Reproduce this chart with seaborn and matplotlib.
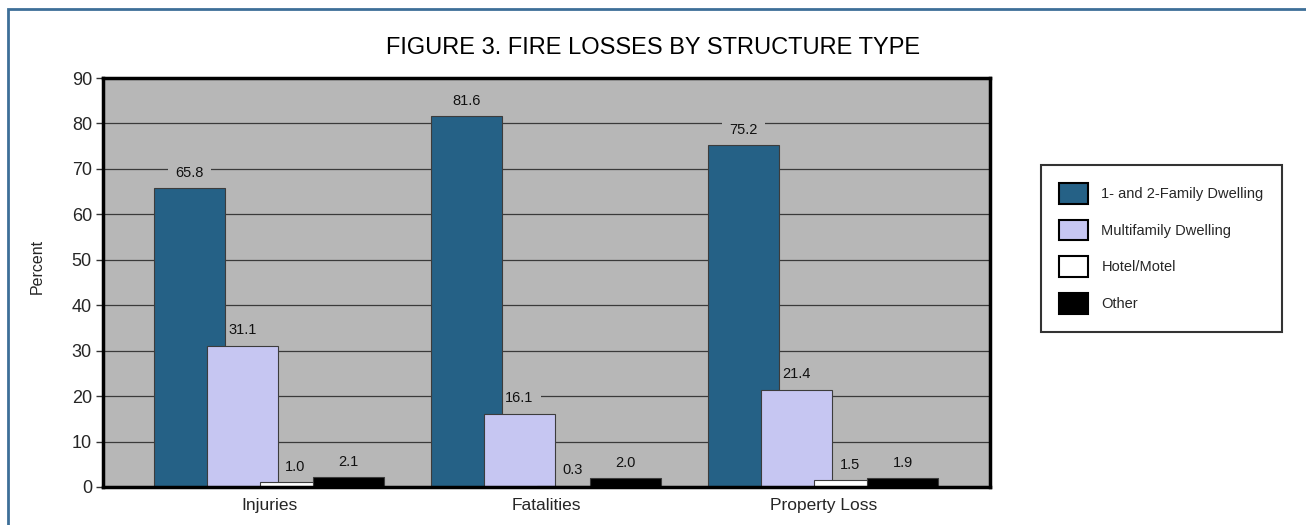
import matplotlib
matplotlib.use("Agg")
import matplotlib.pyplot as plt
from matplotlib.patches import Patch, Rectangle
import seaborn as sns
import pandas as pd

# Loss categories and structure types
categories = ["Injuries", "Fatalities", "Property Loss"]
structure_types = ["1- and 2-Family Dwelling", "Multifamily Dwelling", "Hotel/Motel", "Other"]

# Percent of each loss by structure type
family_12 = [65.8, 81.6, 75.2]
multifamily = [31.1, 16.1, 21.4]
hotel_motel = [1.0, 0.3, 1.5]
other = [2.1, 2.0, 1.9]

colors = ["#256186", "#c6c6f2", "#ffffff", "#000000"]
y_ticks = [0, 10, 20, 30, 40, 50, 60, 70, 80, 90]

series = [family_12, multifamily, hotel_motel, other]
df = pd.DataFrame({
    "Loss": [c for s in series for c in categories],
    "Type": [t for t, s in zip(structure_types, series) for _ in s],
    "Percent": [v for s in series for v in s],
})

sns.set_style("white")
plt.rcParams["font.family"] = ["Liberation Sans", "DejaVu Sans"]

fig = plt.figure(figsize=(13.06, 5.25), dpi=100)
ax = fig.add_axes([0.0789, 0.0724, 0.679, 0.779])
bg = "#b7b7b7"
ax.set_facecolor(bg)

sns.barplot(data=df, x="Loss", y="Percent", hue="Type", order=categories,
            hue_order=structure_types, palette=colors, saturation=1, width=0.77,
            edgecolor="#3c3c3c", linewidth=0.8, legend=False, ax=ax, zorder=2)

# Overlapping bars: step between bars narrower than the bar width
step, bar_w = 0.192, 0.256
for i, cont in enumerate(ax.containers):
    for j, patch in enumerate(cont.patches):
        left = j - 0.4175 + i * step
        patch.set_x(left)
        patch.set_width(bar_w)
    # value labels sit over the gridlines but beneath the bars
    ax.bar_label(cont, fmt="%.1f", padding=6, fontsize=10.5, color="#111111",
                 bbox=dict(boxstyle="square,pad=0.5", facecolor=bg, edgecolor="none"),
                 zorder=1.5)

ax.set_xlim(-0.6, 2.6)
ax.set_ylim(0, 90)
ax.set_yticks(y_ticks)
ax.yaxis.grid(True, color="#3a3a3a", linewidth=0.9)
ax.set_axisbelow(True)
ax.tick_params(axis="y", labelsize=13, length=5, width=1, color="#333333", left=True, pad=3)
ax.tick_params(axis="x", labelsize=12.5, length=0, pad=8)
ax.set_xlabel("")
ax.set_ylabel("Percent", fontsize=11.5)
ax.yaxis.set_label_coords(-0.066, 0.54)
for sp in ax.spines.values():
    sp.set_color("black")
    sp.set_linewidth(2.5)
    sp.set_visible(True)

fig.suptitle("FIGURE 3. FIRE LOSSES BY STRUCTURE TYPE", x=0.5, y=0.93,
             fontsize=17, color="black")

handles = [Patch(facecolor=c, edgecolor="black", linewidth=1.5) for c in colors]
leg = fig.legend(handles, structure_types, loc="upper left",
                 bbox_to_anchor=(0.797, 0.686), borderaxespad=0, fontsize=10.5,
                 frameon=True, fancybox=False, handlelength=2.0, handleheight=1.8,
                 labelspacing=1.1, handletextpad=0.9, borderpad=1.25)
leg.get_frame().set_edgecolor("black")
leg.get_frame().set_linewidth(1.5)

# Outer frame around the figure
fig.patches.append(Rectangle((8 / 1306, -0.05), 1.1, 1 - 9 / 525 + 0.05,
                             transform=fig.transFigure, fill=False,
                             edgecolor="#3d6f98", linewidth=2, clip_on=False))

fig.savefig("out.png", dpi=100)
